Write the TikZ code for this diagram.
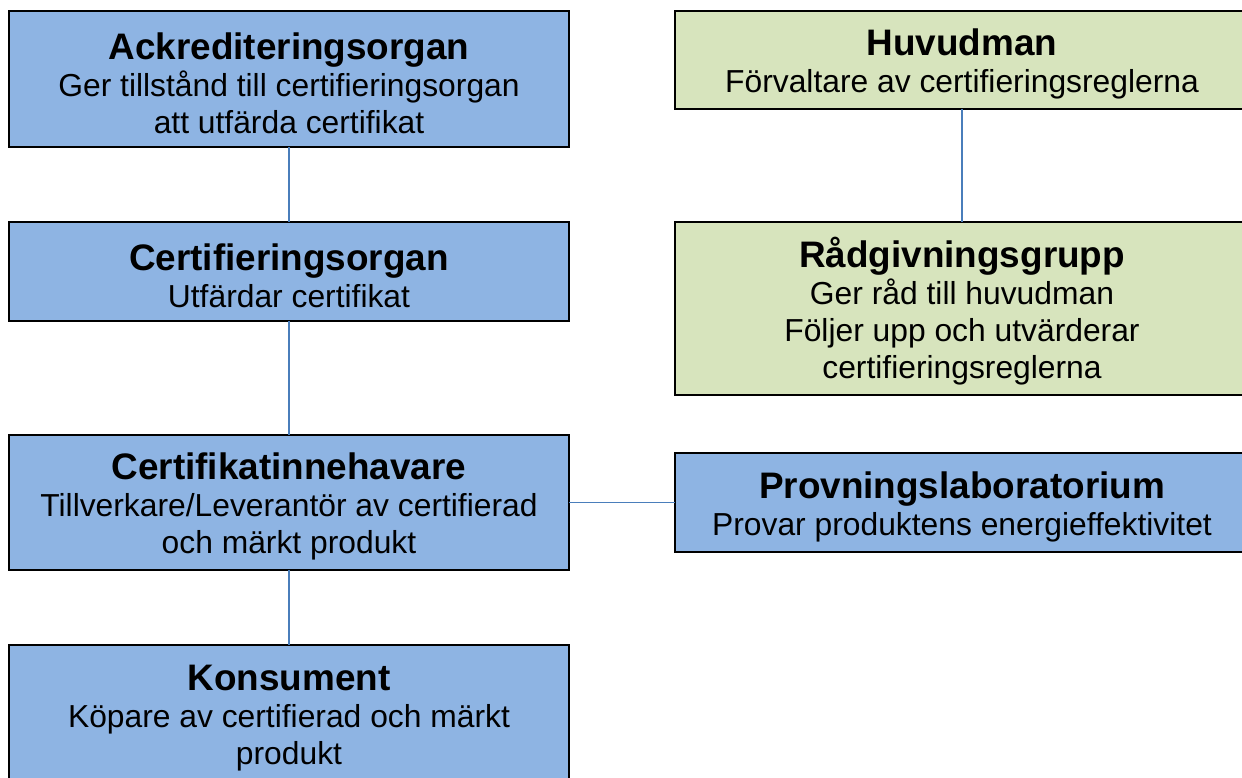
\documentclass[tikz,border=0pt]{standalone}
\usepackage{fontspec}
\setmainfont{Liberation Sans}
\definecolor{boxblue}{HTML}{8EB4E3}
\definecolor{boxgreen}{HTML}{D7E4BD}
\definecolor{linkblue}{HTML}{4A7EBB}
\newcommand{\tfont}{\fontsize{21}{25}\selectfont\bfseries\rule{0pt}{20pt}}
\begin{document}
\begin{tikzpicture}[x=0.02cm,y=-0.02cm,
  box/.style={draw=black, line width=1.1pt, inner sep=0pt, outer sep=0pt,
    align=center, font=\fontsize{18.1}{21}\selectfont},
  bluebox/.style={box, fill=boxblue, minimum width=11.2cm},
  greenbox/.style={box, fill=boxgreen, minimum width=11.48cm},
  link/.style={draw=linkblue, line width=1pt}]
\clip (0,0) rectangle (1242,778);
\fill[white] (0,0) rectangle (1242,778);
\node[bluebox, minimum height=2.72cm] (ack) at (289,79)
  {{\tfont Ackrediteringsorgan}\\Ger tillstånd till certifieringsorgan\\att utfärda certifikat};
\node[bluebox, minimum height=1.98cm] (cert) at (289,271.5)
  {{\tfont Certifieringsorgan}\\Utfärdar certifikat};
\node[bluebox, minimum height=2.7cm] (inneh) at (289,502.5)
  {{\tfont Certifikatinnehavare}\\Tillverkare/Leverantör av certifierad\\och märkt produkt};
\node[bluebox, minimum height=2.72cm] (kons) at (289,713)
  {{\tfont Konsument}\\Köpare av certifierad och märkt\\produkt};
\node[greenbox, minimum height=1.96cm] (huvud) at (962,60)
  {{\tfont Huvudman}\\Förvaltare av certifieringsreglerna};
\node[greenbox, minimum height=3.46cm] (rad) at (962,308.5)
  {{\tfont Rådgivningsgrupp}\\Ger råd till huvudman\\Följer upp och utvärderar\\certifieringsreglerna};
\node[bluebox, minimum width=11.48cm, minimum height=1.98cm] (prov) at (962,502.5)
  {{\tfont Provningslaboratorium}\\Provar produktens energieffektivitet};
\draw[link] (ack.south) -- (cert.north);
\draw[link] (cert.south) -- (inneh.north);
\draw[link] (inneh.south) -- (kons.north);
\draw[link] (huvud.south) -- (rad.north);
\draw[link] (inneh.east) -- (prov.west);
\end{tikzpicture}
\end{document}
